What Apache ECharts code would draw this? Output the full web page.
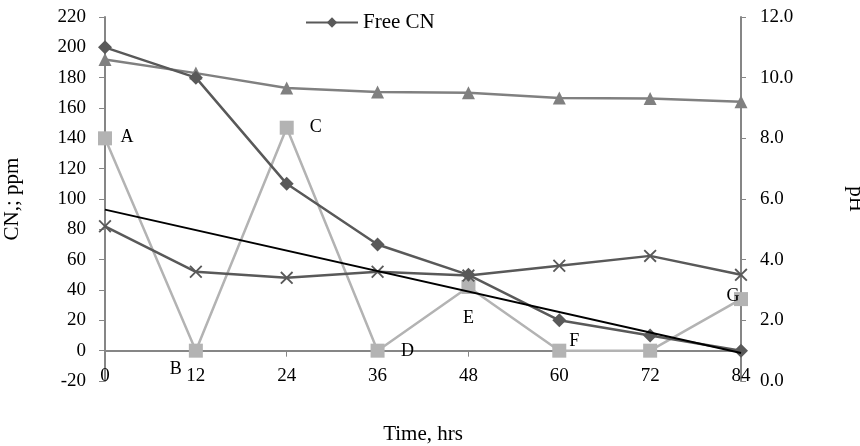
<!DOCTYPE html>
<html>
<head>
<meta charset="utf-8">
<script src="https://cdn.jsdelivr.net/npm/echarts@6/dist/echarts.min.js"></script>
<style>
  html, body { margin: 0; padding: 0; background: #fff; }
  #chart { width: 860px; height: 446px; }
</style>
</head>
<body>
<div id="chart"></div>
<script>
// time points (hrs)
const hours = [0, 12, 24, 36, 48, 60, 72, 84];
// Free CN, ppm (left axis)
const freeCN = [200, 180, 110, 70, 50, 20, 10, 0];
// pH (right axis), triangles
const phValues = [10.6, 10.15, 9.66, 9.53, 9.5, 9.33, 9.31, 9.21];
// lettered series (left axis), squares
const lettered = [140, 0, 147, 0, 42, 0, 0, 34];
const letters = ['A', 'B', 'C', 'D', 'E', 'F', 'G'];
const letterIdx = [0, 1, 2, 3, 4, 5, 7];
// cross series (left axis)
const crossValues = [82, 52, 48, 52, 49.5, 56, 62.5, 50];
// linear trend end points
const trendHours = [0, 84];
const trendValues = [93, -1.5];

const FONT = '"Liberation Serif", "Times New Roman", serif';
const AXIS_COLOR = '#868686';

// label offsets around the squares (style only)
const letterOffsets = {
  A: [22, -1], B: [-20, 19], C: [29, 0], D: [30, 1],
  E: [0, 31], F: [15, -9], G: [-8, -3]
};

const pair = (vals) => hours.map((h, i) => [h, vals[i]]);

const letteredData = hours.map((h, i) => {
  const k = letterIdx.indexOf(i);
  const item = { value: [h, lettered[i]] };
  if (k >= 0) {
    const l = letters[k];
    item.label = {
      show: true,
      formatter: l,
      position: 'inside',
      offset: letterOffsets[l],
      color: '#000',
      fontFamily: FONT,
      fontSize: 18
    };
  }
  return item;
});

const crossPath = 'path://M0,1L1,0L5,4L9,0L10,1L6,5L10,9L9,10L5,6L1,10L0,9L4,5Z';

const chart = echarts.init(document.getElementById('chart'));
chart.setOption({
  animation: false,
  backgroundColor: '#fff',
  textStyle: { fontFamily: FONT },
  grid: { left: 105, right: 119, top: 17, bottom: 65, containLabel: false, outerBoundsMode: 'none' },
  legend: {
    data: ['Free CN'],
    left: 300,
    top: 7,
    itemWidth: 52,
    itemHeight: 13,
    textStyle: { fontFamily: FONT, fontSize: 21, color: '#000' }
  },
  xAxis: {
    type: 'value',
    min: 0,
    max: 84,
    interval: 12,
    name: 'Time, hrs',
    nameLocation: 'middle',
    nameGap: 43,
    nameTextStyle: { fontFamily: FONT, fontSize: 21, color: '#000' },
    axisLine: { onZero: true, onZeroAxisIndex: 0, lineStyle: { color: AXIS_COLOR, width: 2 } },
    axisTick: { show: true, length: 6, lineStyle: { color: AXIS_COLOR } },
    axisLabel: { fontFamily: FONT, fontSize: 19, color: '#000', margin: -14 },
    splitLine: { show: false }
  },
  yAxis: [
    {
      type: 'value',
      min: -20,
      max: 220,
      interval: 20,
      name: 'CN,; ppm',
      nameLocation: 'middle',
      nameRotate: 90,
      nameGap: 82,
      nameTextStyle: { fontFamily: FONT, fontSize: 21, color: '#000' },
      axisLine: { show: true, onZero: false, lineStyle: { color: AXIS_COLOR, width: 2 } },
      axisTick: { show: true, length: 6, lineStyle: { color: AXIS_COLOR } },
      axisLabel: { fontFamily: FONT, fontSize: 19, color: '#000', margin: 19 },
      splitLine: { show: false }
    },
    {
      type: 'value',
      min: 0,
      max: 12,
      interval: 2,
      position: 'right',
      name: 'pH',
      nameLocation: 'middle',
      nameRotate: -90,
      nameGap: 104,
      nameTextStyle: { fontFamily: FONT, fontSize: 21, color: '#000' },
      axisLine: { show: true, onZero: false, lineStyle: { color: AXIS_COLOR, width: 2 } },
      axisTick: { show: true, length: 5, lineStyle: { color: AXIS_COLOR } },
      axisLabel: {
        fontFamily: FONT, fontSize: 19, color: '#000', margin: 19,
        formatter: (v) => v.toFixed(1)
      },
      splitLine: { show: false }
    }
  ],
  series: [
    {
      name: 'pH',
      type: 'line',
      yAxisIndex: 1,
      data: pair(phValues),
      symbol: 'triangle',
      symbolSize: 13,
      lineStyle: { color: '#808080', width: 2.5 },
      itemStyle: { color: '#808080' },
      z: 2
    },
    {
      name: 'Letters',
      type: 'line',
      data: letteredData,
      symbol: 'rect',
      symbolSize: 14,
      lineStyle: { color: '#b3b3b3', width: 2.5 },
      itemStyle: { color: '#b3b3b3' },
      z: 3
    },
    {
      name: 'Cross',
      type: 'line',
      data: pair(crossValues),
      symbol: crossPath,
      symbolSize: 13,
      lineStyle: { color: '#595959', width: 2.5 },
      itemStyle: { color: '#595959' },
      z: 4
    },
    {
      name: 'Free CN',
      type: 'line',
      data: pair(freeCN),
      symbol: 'diamond',
      symbolSize: 14,
      lineStyle: { color: '#595959', width: 2.5 },
      itemStyle: { color: '#595959' },
      z: 5
    },
    {
      name: 'Trend',
      type: 'line',
      data: trendHours.map((h, i) => [h, trendValues[i]]),
      showSymbol: false,
      symbol: 'none',
      lineStyle: { color: '#000', width: 2 },
      z: 6
    }
  ]
});
</script>
</body>
</html>
